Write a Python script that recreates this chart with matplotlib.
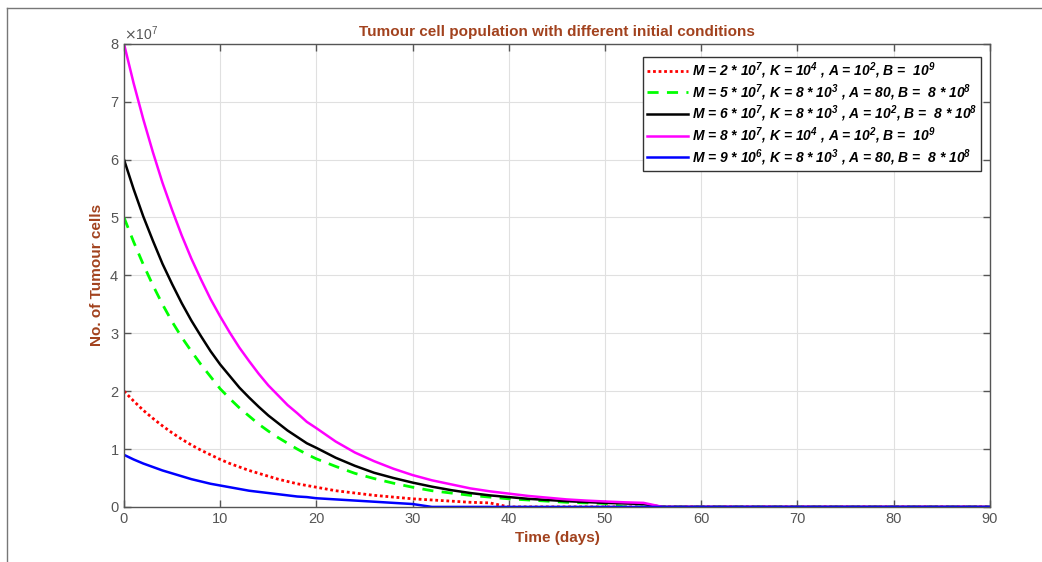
import matplotlib

matplotlib.use("Agg")
from matplotlib import pyplot as plt
from matplotlib.lines import Line2D
from matplotlib.ticker import ScalarFormatter

days = [0, 1, 2, 3, 4, 5, 6, 7, 8, 9, 10, 11, 12, 13, 14, 15, 16, 17, 18, 19,
        20, 22, 24, 26, 28, 30, 32, 34, 36, 38, 40, 42, 44, 46, 48, 50, 52,
        54, 56, 60, 90]

# tumour cell counts, in units of 1e7
red_vals = [2.0, 1.83, 1.67, 1.53, 1.40, 1.28, 1.17, 1.07, 0.98, 0.90, 0.82,
            0.75, 0.69, 0.63, 0.58, 0.53, 0.48, 0.44, 0.40, 0.37, 0.34,
            0.28, 0.24, 0.20, 0.17, 0.14, 0.12, 0.10, 0.08, 0.07, 0.0, 0.0,
            0.0, 0.0, 0.0, 0.0, 0.0, 0.0, 0.0, 0.0, 0.0]
green_vals = [5.0, 4.58, 4.19, 3.83, 3.50, 3.20, 2.93, 2.69, 2.46, 2.25, 2.04,
              1.87, 1.71, 1.57, 1.43, 1.31, 1.20, 1.10, 1.0, 0.91, 0.83,
              0.70, 0.58, 0.49, 0.41, 0.34, 0.28, 0.24, 0.20, 0.17, 0.14, 0.12,
              0.10, 0.08, 0.07, 0.06, 0.0, 0.0, 0.0, 0.0, 0.0]
black_vals = [6.0, 5.49, 5.02, 4.60, 4.20, 3.85, 3.52, 3.22, 2.95, 2.69, 2.46,
              2.26, 2.06, 1.89, 1.73, 1.58, 1.45, 1.32, 1.21, 1.10, 1.02,
              0.85, 0.71, 0.59, 0.50, 0.42, 0.35, 0.29, 0.24, 0.20, 0.17, 0.14,
              0.12, 0.10, 0.084, 0.07, 0.06, 0.05, 0.0, 0.0, 0.0]
magenta_vals = [8.0, 7.32, 6.70, 6.13, 5.60, 5.13, 4.69, 4.29, 3.93, 3.59,
                3.29, 3.01, 2.75, 2.52, 2.30, 2.10, 1.93, 1.76, 1.62, 1.47,
                1.36, 1.13, 0.94, 0.79, 0.66, 0.55, 0.46, 0.39, 0.32, 0.27,
                0.23, 0.19, 0.16, 0.13, 0.11, 0.094, 0.08, 0.07, 0.0, 0.0, 0.0]
blue_vals = [0.9, 0.82, 0.75, 0.69, 0.63, 0.58, 0.53, 0.48, 0.44, 0.40, 0.37,
             0.34, 0.31, 0.28, 0.26, 0.24, 0.22, 0.20, 0.18, 0.17, 0.15,
             0.13, 0.11, 0.09, 0.07, 0.05, 0.0, 0.0, 0.0, 0.0, 0.0, 0.0, 0.0,
             0.0, 0.0, 0.0, 0.0, 0.0, 0.0, 0.0, 0.0]

labels = [
    r"M = 2 * $\mathdefault{10^{7}}$, K = $\mathdefault{10^{4}}$ , A = $\mathdefault{10^{2}}$, B =  $\mathdefault{10^{9}}$",
    r"M = 5 * $\mathdefault{10^{7}}$, K = 8 * $\mathdefault{10^{3}}$ , A = 80, B =  8 * $\mathdefault{10^{8}}$",
    r"M = 6 * $\mathdefault{10^{7}}$, K = 8 * $\mathdefault{10^{3}}$ , A = $\mathdefault{10^{2}}$, B =  8 * $\mathdefault{10^{8}}$",
    r"M = 8 * $\mathdefault{10^{7}}$, K = $\mathdefault{10^{4}}$ , A = $\mathdefault{10^{2}}$, B =  $\mathdefault{10^{9}}$",
    r"M = 9 * $\mathdefault{10^{6}}$, K = 8 * $\mathdefault{10^{3}}$ , A = 80, B =  8 * $\mathdefault{10^{8}}$",
]

scale = 1e7
label_color = "#A2421E"
axis_color = "#555555"

plt.rcParams["font.family"] = ["Liberation Sans", "DejaVu Sans"]

fig = plt.figure(figsize=(10.42, 5.62), dpi=100)
ax = fig.add_axes([0.119, 0.098, 0.831, 0.824])

series = [
    (red_vals, dict(color="#ff0000", linestyle=(0, (1, 1)), linewidth=2.0)),
    (green_vals, dict(color="#00ff00", linestyle=(0, (4, 3)), linewidth=2.0)),
    (black_vals, dict(color="black", linestyle="-", linewidth=1.8)),
    (magenta_vals, dict(color="#ff00ff", linestyle="-", linewidth=1.8)),
    (blue_vals, dict(color="#0000ff", linestyle="-", linewidth=1.8)),
]
for (vals, style), lab in zip(series, labels):
    ax.plot(days, [v * scale for v in vals], label=lab, **style)

ax.set_xlim(0, 90)
ax.set_ylim(0, 8e7)
ax.set_xticks(range(0, 91, 10))
ax.set_yticks([i * scale for i in range(0, 9)])

fmt = ScalarFormatter(useMathText=True)
fmt.set_powerlimits((0, 0))
ax.yaxis.set_major_formatter(fmt)
ax.yaxis.get_offset_text().set_color(axis_color)
ax.yaxis.get_offset_text().set_fontsize(10)

ax.grid(True, color="#e0e0e0", linewidth=0.8)
ax.set_axisbelow(True)
ax.tick_params(direction="in", top=True, right=True, length=5,
               colors=axis_color, labelsize=10.5, width=1.0)
for sp in ax.spines.values():
    sp.set_color(axis_color)
    sp.set_linewidth(1.0)

ax.set_title("Tumour cell population with different initial conditions",
             color=label_color, fontweight="bold", fontsize=11, pad=6)
ax.set_xlabel("Time (days)", color=label_color, fontweight="bold", fontsize=11)
ax.set_ylabel("No. of Tumour cells", color=label_color, fontweight="bold",
              fontsize=11, labelpad=4)

leg = ax.legend(loc="upper right", bbox_to_anchor=(0.99, 0.972),
                prop=dict(weight="bold", style="italic", size=10),
                fancybox=False, framealpha=1, edgecolor="#333333",
                handlelength=3.0, handletextpad=0.3, borderpad=0.25,
                labelspacing=0.08, borderaxespad=0)
leg.get_frame().set_linewidth(1.0)

# thin frame on the left and top of the picture
fig.add_artist(Line2D([0.0067, 0.0067], [0, 0.986], color="#777777",
                      linewidth=1.0, transform=fig.transFigure))
fig.add_artist(Line2D([0.0067, 1.0], [0.986, 0.986], color="#777777",
                      linewidth=1.0, transform=fig.transFigure))

fig.savefig("out.png", dpi=100)
